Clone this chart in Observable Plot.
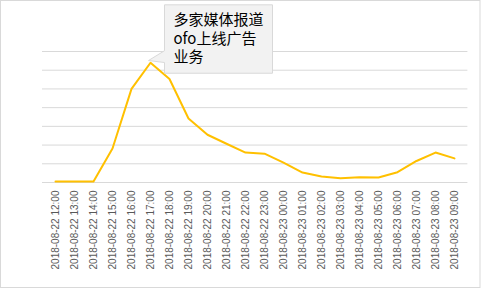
<!DOCTYPE html>
<html>
<head>
<meta charset="utf-8">
<script src="https://cdn.jsdelivr.net/npm/d3@7"></script>
<script src="https://cdn.jsdelivr.net/npm/@observablehq/plot@0.6"></script>
<style>
  html, body { margin: 0; padding: 0; background: #fff; }
</style>
</head>
<body>
<div id="chart"></div>
<script>
const times = [
  "2018-08-22 12:00", "2018-08-22 13:00", "2018-08-22 14:00", "2018-08-22 15:00",
  "2018-08-22 16:00", "2018-08-22 17:00", "2018-08-22 18:00", "2018-08-22 19:00",
  "2018-08-22 20:00", "2018-08-22 21:00", "2018-08-22 22:00", "2018-08-22 23:00",
  "2018-08-23 00:00", "2018-08-23 01:00", "2018-08-23 02:00", "2018-08-23 03:00",
  "2018-08-23 04:00", "2018-08-23 05:00", "2018-08-23 06:00", "2018-08-23 07:00",
  "2018-08-23 08:00", "2018-08-23 09:00"
];
const values = [
  0.05, 0.05, 0.05, 1.82, 5.0, 6.4, 5.53, 3.42, 2.55, 2.07, 1.6, 1.54,
  1.06, 0.53, 0.32, 0.23, 0.28, 0.27, 0.55, 1.15, 1.6, 1.29
];
const gridValues = [0, 1, 2, 3, 4, 5, 6, 7];
const annotationTime = "2018-08-22 17:00";
const annotationLines = ["多家媒体报道", "ofo上线广告", "业务"];

const data = times.map((t, i) => ({time: t, value: values[i]}));
const annotationValue = values[times.indexOf(annotationTime)];

// Callout anchored at the annotated data point
function callout(index, scales, values_, dimensions) {
  const px = scales.x(annotationTime);
  const py = scales.y(annotationValue);
  const g = d3.create("svg:g");
  const left = px + 14.5, top = py - 57.4, w = 108, h = 68.4;
  const tipX = px - 1.5, tipY = py - 1.7;
  const path = [
    [left, top], [left + w, top], [left + w, top + h], [left, top + h],
    [left, py + 0.3], [tipX, tipY], [left, py - 11.5]
  ];
  g.append("path")
    .attr("d", "M" + path.map(p => p.join(",")).join("L") + "Z")
    .attr("fill", "#f2f2f2")
    .attr("stroke", "#d9d9d9")
    .attr("stroke-width", 1);
  const text = g.append("text")
    .attr("font-family", "'Noto Sans CJK SC', sans-serif")
    .attr("font-size", 15)
    .attr("text-anchor", "start")
    .attr("fill", "#000");
  annotationLines.forEach((line, i) => {
    text.append("tspan")
      .attr("x", left + 9)
      .attr("y", top + 20 + i * 18.8)
      .text(line);
  });
  return g.node();
}

function border(index, scales, values_, dimensions) {
  const r = d3.create("svg:rect")
    .attr("x", 0.5).attr("y", 0.5)
    .attr("width", dimensions.width - 1.5)
    .attr("height", dimensions.height - 2)
    .attr("fill", "none")
    .attr("stroke", "#d9d9d9");
  return r.node();
}

const chart = Plot.plot({
  width: 481,
  height: 289,
  marginLeft: 42,
  marginRight: 13.6,
  marginTop: 51,
  marginBottom: 107,
  style: {fontFamily: "'Liberation Sans', Arial, sans-serif", background: "#fff"},
  x: {type: "point", domain: times, padding: 0.5},
  y: {domain: [0, 7], axis: null},
  marks: [
    border,
    Plot.ruleY(gridValues, {stroke: "#d9d9d9", strokeWidth: 1, strokeOpacity: 1}),
    Plot.axisX({
      tickRotate: -90,
      tickSize: 0,
      tickPadding: 8,
      fontSize: 10,
      color: "#595959",
      label: null
    }),
    Plot.line(data, {x: "time", y: "value", stroke: "#FFC000", strokeWidth: 2}),
    callout
  ]
});
document.getElementById("chart").append(chart);
</script>
</body>
</html>
